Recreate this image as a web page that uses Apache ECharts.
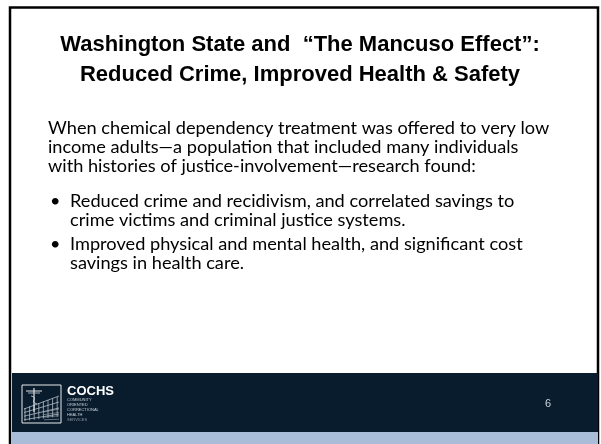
<!DOCTYPE html>
<html><head><meta charset="utf-8">
<script src="https://cdn.jsdelivr.net/npm/echarts@6/dist/echarts.min.js"></script>
<style>html,body{margin:0;padding:0;background:#fff}#c{width:601px;height:444px}</style>
</head><body><div id="c"></div>
<script>
var titleLines = ['Washington State and  \u201cThe Mancuso Effect\u201d:', 'Reduced Crime, Improved Health & Safety'];
var introLines = ['When chemical dependency treatment was offered to very low', 'income adults\u2014a population that included many individuals', 'with histories of justice-involvement\u2014research found:'];
var bullets = [
  ['Reduced crime and recidivism, and correlated savings to', 'crime victims and criminal justice systems.'],
  ['Improved physical and mental health, and significant cost', 'savings in health care.']
];
var logoName = 'COCHS';
var logoWords = ['COMMUNITY', 'ORIENTED', 'CORRECTIONAL', 'HEALTH', 'SERVICES'];
var pageNumber = '6';

var chart = echarts.init(document.getElementById('c'), null, {renderer: 'canvas'});
var g = [];
var bodyFont = 'Lato, "Open Sans", sans-serif';
var titleFont = '"Liberation Sans", Arial, sans-serif';
function txt(x, y, t, size, weight, family, fill, align, va) {
  return {type: 'text', x: x, y: y, z: 3, style: {text: t, fill: fill, fontSize: size, fontWeight: weight, fontFamily: family, align: align, verticalAlign: va}};
}
function ln(x1, y1, x2, y2, c, w) {
  return {type: 'line', z: 3, shape: {x1: x1, y1: y1, x2: x2, y2: y2}, style: {stroke: c, lineWidth: w}};
}
// slide border
g.push({type: 'rect', z: 1, shape: {x: 10, y: 7.5, width: 588, height: 440}, style: {fill: '#ffffff', stroke: '#000000', lineWidth: 2.5}});
// footer
g.push({type: 'rect', z: 2, shape: {x: 12, y: 373, width: 586, height: 59}, style: {fill: '#081c2d'}});
g.push({type: 'rect', z: 2, shape: {x: 12, y: 432, width: 586, height: 12}, style: {fill: '#a9bdd8'}});
// titles
var titleY = [45, 75];
titleLines.forEach(function (t, i) {
  g.push(txt(300, titleY[i], t, 22, 'bold', titleFont, '#000', 'center', 'middle'));
});
var introY = [128, 147, 166];
introLines.forEach(function (t, i) {
  g.push(txt(48, introY[i], t, 18.2, 'normal', bodyFont, '#000', 'left', 'middle'));
});
var bulletY = [[201, 220], [244, 263]];
bullets.forEach(function (b, k) {
  g.push(txt(50, bulletY[k][0], '\u2022', 18, 'normal', bodyFont, '#000', 'left', 'middle'));
  b.forEach(function (t, i) {
    g.push(txt(70, bulletY[k][i], t, 18.2, 'normal', bodyFont, '#000', 'left', 'middle'));
  });
});
// logo box
g.push({type: 'rect', z: 3, shape: {x: 22, y: 385, width: 39, height: 38}, style: {fill: 'rgba(0,0,0,0)', stroke: '#e8e8e8', lineWidth: 1}});
// fence posts and rails (perspective)
for (var i = 0; i < 8; i++) {
  var px = 25 + i * 4.6;
  g.push(ln(px, 408 - i * 1.6, px, 421 - i * 0.6, '#c8d0d7', 0.7));
}
for (var j = 0; j < 4; j++) {
  g.push(ln(24, 409 + j * 3.6, 59, 396 + j * 6, '#c8d0d7', 0.7));
}
// checkered wall lower right
for (var k = 0; k < 4; k++) {
  g.push(ln(44, 412 + k * 2.6, 59, 409 + k * 3.4, '#9aa6b0', 0.6));
}
// caduceus
g.push(ln(34, 388, 34, 412, '#e6e6e6', 1.2));
g.push(ln(26, 391, 42, 391, '#e0e0e0', 1));
g.push(ln(28, 393, 40, 393, '#d0d0d0', 0.8));
g.push({type: 'bezierCurve', z: 3, shape: {x1: 31, y1: 396, x2: 37, y2: 404, cpx1: 40, cpy1: 398, cpx2: 28, cpy2: 401}, style: {stroke: '#d8d8d8', lineWidth: 0.8, fill: 'rgba(0,0,0,0)'}});
g.push(txt(67, 385, logoName, 13, 'bold', titleFont, '#fff', 'left', 'top'));
logoWords.forEach(function (w, i) {
  g.push(txt(67, 400 + i * 5, w, 4, 'normal', titleFont, i === 4 ? '#8a96a3' : '#c9d0d6', 'left', 'middle'));
});
g.push(txt(548, 404, pageNumber, 11, 'normal', titleFont, '#cfd3d7', 'center', 'middle'));

chart.setOption({animation: false, graphic: {elements: g}});
</script>
</body></html>
